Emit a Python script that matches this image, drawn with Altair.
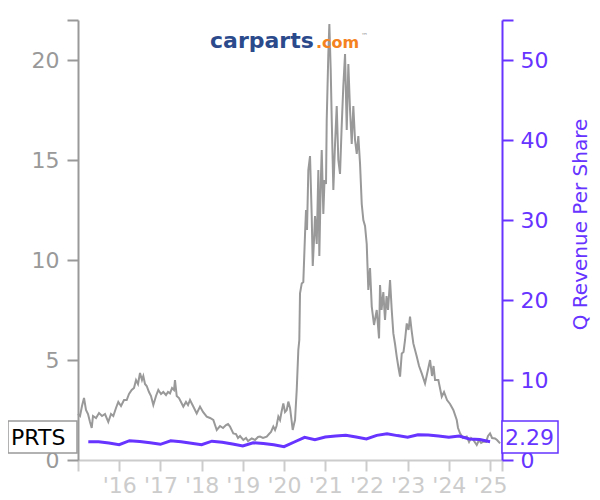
import altair as alt
import pandas as pd

# ---------------- data ----------------
price_year = [
    2015.000, 2015.049, 2015.097, 2015.146, 2015.194, 2015.243, 2015.291, 2015.333, 2015.364, 2015.437,
    2015.510, 2015.583, 2015.655, 2015.735, 2015.801, 2015.857, 2015.922, 2015.978,
    2016.044, 2016.117, 2016.182, 2016.238, 2016.303, 2016.359, 2016.408, 2016.456, 2016.505, 2016.553,
    2016.585, 2016.626, 2016.667, 2016.723, 2016.772, 2016.828, 2016.893, 2016.949,
    2017.015, 2017.070, 2017.136, 2017.184, 2017.233, 2017.282, 2017.330, 2017.354, 2017.396, 2017.451,
    2017.500, 2017.556, 2017.621, 2017.670, 2017.718, 2017.767, 2017.816, 2017.881, 2017.961,
    2018.034, 2018.124, 2018.204, 2018.284, 2018.367, 2018.447, 2018.519, 2018.592, 2018.641, 2018.689,
    2018.769, 2018.835, 2018.883, 2018.932,
    2019.012, 2019.078, 2019.126, 2019.216, 2019.296, 2019.369, 2019.417, 2019.490, 2019.580, 2019.636,
    2019.684, 2019.740, 2019.782, 2019.818, 2019.862, 2019.903, 2019.939, 2019.983,
    2020.024, 2020.066, 2020.104, 2020.146, 2020.182, 2020.211, 2020.243, 2020.267, 2020.308, 2020.347,
    2020.371, 2020.388, 2020.430, 2020.468, 2020.510, 2020.534, 2020.558, 2020.590, 2020.631, 2020.672,
    2020.697, 2020.728, 2020.752, 2020.794, 2020.833, 2020.857, 2020.891, 2020.915, 2020.954, 2020.983,
    2021.019, 2021.036, 2021.075, 2021.100, 2021.133, 2021.158, 2021.197, 2021.238, 2021.279, 2021.318,
    2021.359, 2021.396, 2021.439, 2021.481, 2021.522, 2021.561, 2021.602, 2021.643, 2021.682, 2021.723,
    2021.765, 2021.803, 2021.845, 2021.886, 2021.925, 2021.966,
    2022.007, 2022.046, 2022.087, 2022.129, 2022.184, 2022.250, 2022.306, 2022.330, 2022.367, 2022.410,
    2022.451, 2022.488, 2022.524, 2022.573, 2022.614, 2022.653, 2022.694, 2022.735, 2022.779, 2022.816,
    2022.857, 2022.900, 2022.937, 2022.978,
    2023.022, 2023.058, 2023.095, 2023.138, 2023.221, 2023.277, 2023.342, 2023.422, 2023.471, 2023.544,
    2023.592, 2023.629, 2023.665, 2023.745, 2023.828, 2023.883, 2023.956,
    2024.029, 2024.109, 2024.192, 2024.223, 2024.272, 2024.345, 2024.434, 2024.490, 2024.539, 2024.595,
    2024.677, 2024.733, 2024.782, 2024.837, 2024.903, 2024.951,
    2025.000, 2025.049, 2025.121, 2025.170, 2025.243,
]
price = [
    2.3, 2.2, 2.7, 3.1, 2.5, 2.3, 1.9, 1.6, 2.2, 2.1,
    2.35, 2.2, 2.3, 1.9, 2.3, 2.2, 2.6, 2.9,
    2.7, 3.0, 3.0, 3.3, 3.5, 3.6, 4.0, 3.8, 4.35, 4.0,
    4.2, 3.8, 3.7, 3.4, 3.2, 2.75, 3.2, 3.5,
    3.3, 3.4, 3.25, 3.4, 3.33, 3.6, 3.5, 4.0, 3.2, 3.1,
    2.9, 2.67, 2.9, 2.75, 3.0, 2.8, 2.6, 2.33, 2.67,
    2.4, 2.17, 2.1, 2.0, 1.5, 1.7, 1.6, 1.75, 1.8, 1.67,
    1.33, 1.3, 1.1, 1.2,
    1.0, 1.1, 0.95, 1.08, 1.0, 1.15, 1.17, 1.1, 1.17, 1.3,
    1.4, 1.67, 1.5, 1.7, 2.17, 2.0, 2.4, 2.83,
    2.4, 2.5, 2.92, 2.6, 2.0, 1.5, 1.8, 2.0, 3.5, 5.5,
    6.0, 8.33, 8.83, 8.9, 11.3, 12.5, 11.5, 14.5, 15.2, 12.2,
    9.7, 11.0, 12.2, 10.8, 14.5, 10.2, 13.8, 15.5, 12.3, 14.0,
    13.8, 17.0, 20.3, 21.8, 19.5, 17.0, 13.5, 15.8, 17.7, 15.0,
    14.3, 16.5, 18.7, 20.3, 16.5, 19.8, 17.5, 15.8, 17.7, 16.0,
    15.3, 16.2, 14.8, 12.8, 12.0, 11.7,
    10.8, 8.5, 9.6, 7.67, 6.75, 7.5, 6.08, 8.75, 7.5, 8.4,
    7.0, 8.2, 7.5, 9.0, 7.5, 6.33, 5.8, 5.17, 4.6, 4.17,
    5.33, 5.4, 6.0, 6.83,
    6.5, 7.17, 6.5, 5.83, 5.17, 4.7, 4.33, 3.83, 4.3, 5.0,
    4.2, 4.7, 4.0, 4.0, 3.17, 3.4, 3.0,
    2.8, 2.5, 2.0, 1.6, 1.33, 1.1, 1.17, 0.9, 1.1, 1.0,
    0.75, 1.0, 0.85, 0.92, 0.9, 1.2,
    1.33, 1.1, 1.08, 1.0, 0.83,
]

rev_year = [
    2015.25, 2015.50, 2015.75, 2016.00, 2016.25, 2016.50, 2016.75, 2017.00,
    2017.25, 2017.50, 2017.75, 2018.00, 2018.25, 2018.50, 2018.75, 2019.00,
    2019.25, 2019.50, 2019.75, 2020.00, 2020.25, 2020.50, 2020.75, 2021.00,
    2021.25, 2021.50, 2021.75, 2022.00, 2022.25, 2022.50, 2022.75, 2023.00,
    2023.25, 2023.50, 2023.75, 2024.00, 2024.25, 2024.50, 2024.75, 2025.00,
]
rev_per_share = [
    2.29, 2.27, 2.12, 1.91, 2.41, 2.30, 2.15, 1.96,
    2.41, 2.28, 2.10, 1.91, 2.35, 2.22, 2.00, 1.75,
    2.16, 2.05, 1.90, 1.66, 2.25, 2.84, 2.55, 2.88,
    3.00, 3.09, 2.88, 2.63, 3.08, 3.29, 3.05, 2.84,
    3.16, 3.12, 3.00, 2.84, 3.00, 2.62, 2.55, 2.29,
]

ticker = "PRTS"
logo_main = "carparts"
logo_suffix = ".com"
logo_tm = "™"
right_title = "Q Revenue Per Share"

x_domain = [2015.0, 2025.29]
x_ticks = [2015, 2016, 2017, 2018, 2019, 2020, 2021, 2022, 2023, 2024, 2025, 2025.29]
left_domain = [0, 22]
left_ticks = [0, 5, 10, 15, 20, 22]
right_domain = [0, 55]
right_ticks = [0, 10, 20, 30, 40, 50, 55]

# ---------------- style ----------------
GRAY = "#999999"
LIGHT = "#cccccc"
PURPLE = "#6633ff"
NAVY = "#2b4a8c"
ORANGE = "#f58220"
FONT = "DejaVu Sans"

price_df = pd.DataFrame({"year": price_year, "price": price})
rev_df = pd.DataFrame({"year": rev_year, "rev": rev_per_share})
label_df = pd.DataFrame({
    "ticker": [ticker],
    "last": [f"{rev_per_share[-1]:.2f}"],
    "logo_main": [logo_main],
    "logo_suffix": [logo_suffix],
    "logo_tm": [logo_tm],
})

x_axis = alt.Axis(
    values=x_ticks,
    labelExpr="datum.value >= 2016 && datum.value <= 2025 && datum.value == floor(datum.value) ? \"'\" + substring(toString(datum.value), 2, 4) : ''",
    title=None, grid=False, domainColor=LIGHT, tickColor=LIGHT, labelColor=LIGHT,
    labelFontSize=22, tickSize=11, labelPadding=4, labelFlush=False, labelOverlap=False,
    domainWidth=2, tickWidth=2, labelFont=FONT,
)
x_enc = alt.X("year:Q", scale=alt.Scale(domain=x_domain, nice=False, zero=False), axis=x_axis)

price_line = alt.Chart(price_df).mark_line(color=GRAY, strokeWidth=2).encode(
    x=x_enc,
    y=alt.Y(
        "price:Q",
        scale=alt.Scale(domain=left_domain, nice=False),
        axis=alt.Axis(
            orient="left", values=left_ticks,
            labelExpr="datum.value == 22 ? '' : datum.label",
            title=None, grid=False, domainColor=GRAY, tickColor=GRAY, labelColor=GRAY,
            labelFontSize=22, tickSize=11, labelPadding=8, domainWidth=2, tickWidth=2,
            labelFont=FONT,
        ),
    ),
)

rev_line = alt.Chart(rev_df).mark_line(color=PURPLE, strokeWidth=3).encode(
    x=x_enc,
    y=alt.Y(
        "rev:Q",
        scale=alt.Scale(domain=right_domain, nice=False),
        axis=alt.Axis(
            orient="right", values=right_ticks,
            labelExpr="datum.value == 55 ? '' : datum.label",
            title=right_title, titleColor=PURPLE, titleFontSize=20, titleFontWeight="normal",
            titleAngle=270, titleX=78, titleY=204, titleAlign="center", titleBaseline="middle",
            titleFont=FONT,
            grid=False, domainColor=PURPLE, tickColor=PURPLE, labelColor=PURPLE,
            labelFontSize=22, tickSize=11, labelPadding=7, domainWidth=2, tickWidth=2,
            labelFont=FONT,
        ),
    ),
)

base = alt.Chart(label_df)

left_box = base.mark_rect(fill="white", stroke=GRAY, strokeWidth=1.5).encode(
    x=alt.value(-70), x2=alt.value(-1), y=alt.value(401), y2=alt.value(433)
)
left_text = base.mark_text(align="left", baseline="middle", fontSize=22, font=FONT, color="black").encode(
    x=alt.value(-67), y=alt.value(418), text="ticker:N"
)
right_box = base.mark_rect(fill="white", stroke=PURPLE, strokeWidth=1.5).encode(
    x=alt.value(424), x2=alt.value(480), y=alt.value(401), y2=alt.value(433)
)
right_text = base.mark_text(align="left", baseline="middle", fontSize=22, font=FONT, color=PURPLE).encode(
    x=alt.value(427), y=alt.value(418), text="last:N"
)

logo1 = base.mark_text(align="left", baseline="alphabetic", fontSize=22, fontWeight="bold", font=FONT, color=NAVY).encode(
    x=alt.value(132), y=alt.value(28), text="logo_main:N"
)
logo2 = base.mark_text(align="left", baseline="alphabetic", fontSize=16, fontWeight="bold", font=FONT, color=ORANGE).encode(
    x=alt.value(238), y=alt.value(28), text="logo_suffix:N"
)
logo3 = base.mark_text(align="left", baseline="alphabetic", fontSize=7, font=FONT, color=GRAY).encode(
    x=alt.value(283), y=alt.value(18), text="logo_tm:N"
)

chart = alt.layer(
    price_line, rev_line, left_box, left_text, right_box, right_text, logo1, logo2, logo3
).resolve_scale(y="independent").properties(
    width=424, height=440,
    autosize=alt.AutoSizeParams(type="none"),
    padding={"left": 70, "top": 12, "right": 90, "bottom": 40},
).configure(font=FONT).configure_view(strokeWidth=0)

chart.save("out.html", embed_options={"renderer": "svg", "actions": False})
